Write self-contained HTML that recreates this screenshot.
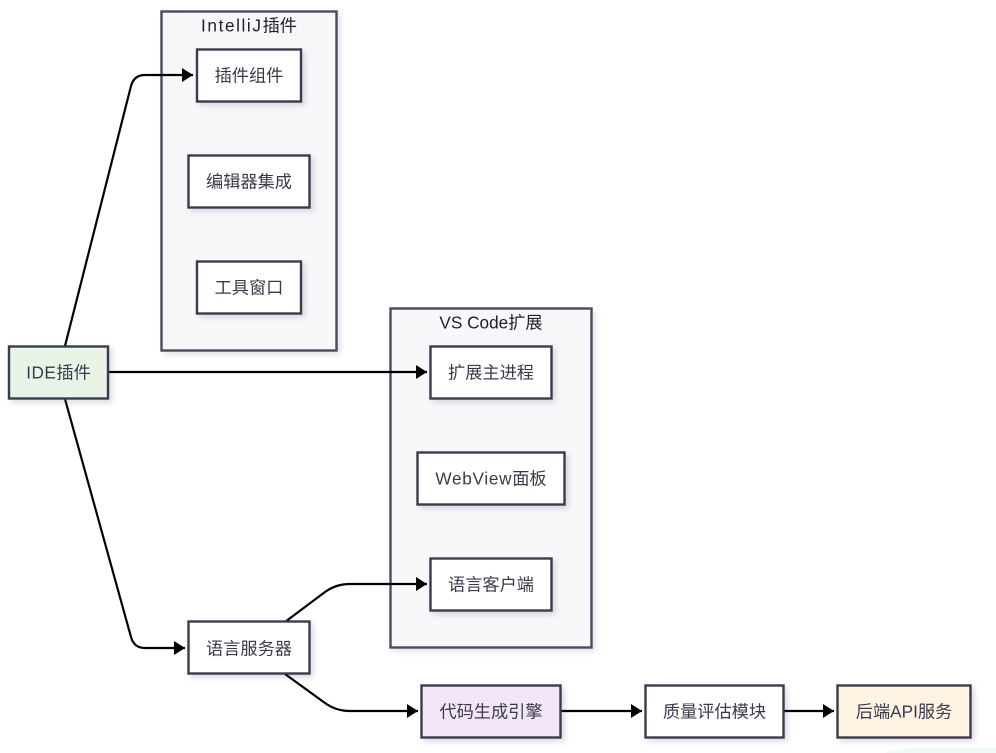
<!DOCTYPE html>
<html lang="zh">
<head>
<meta charset="utf-8">
<title>IDE插件架构图</title>
<style>
html,body{margin:0;padding:0;background:#fff;width:996px;height:753px;overflow:hidden}
svg{display:block}
text{font-family:"Liberation Sans","Noto Sans CJK SC",sans-serif;font-size:17.2px;fill:#3a3a4c;text-anchor:middle;dominant-baseline:central;transform:translateY(1.5px)}
.n{stroke:#3b3b4f;stroke-width:2.4;filter:drop-shadow(3px 3px 3px rgba(40,40,70,.16))}
.g{fill:#f8f8fb;stroke:#4a4a5e;stroke-width:2.4;filter:drop-shadow(3px 3px 3px rgba(40,40,70,.13))}
.e{fill:none;stroke:#000;stroke-width:2.2}
.t{fill:#20202c}
</style>
</head>
<body>
<svg width="996" height="753" viewBox="0 0 996 753" xmlns="http://www.w3.org/2000/svg">
<defs>
<marker id="a" markerUnits="userSpaceOnUse" markerWidth="12" markerHeight="14" refX="11" refY="7" orient="auto">
<path d="M0 0L11 7L0 14Z" fill="#000"/>
</marker>
</defs>
<path d="M885 753Q895 748 920 748H996V753Z" fill="#effaf7"/>

<rect class="g" x="161.500" y="11.500" width="175" height="339"/>
<rect class="g" x="390.500" y="308.500" width="201" height="339"/>
<text class="t" x="249" y="24"><tspan letter-spacing="1.6">IntelliJ</tspan>插件</text>
<text class="t" x="491" y="321">VS Code扩展</text>

<path class="e" d="M65 346L131 86Q134 75 145 75H193" marker-end="url(#a)"/>
<path class="e" d="M108 372H427" marker-end="url(#a)"/>
<path class="e" d="M65 399L131 637Q134 648 145 648H185" marker-end="url(#a)"/>
<path class="e" d="M285 622L325 592Q336 584 350 584H427" marker-end="url(#a)"/>
<path class="e" d="M285 674L325 703Q336 711 350 711H418" marker-end="url(#a)"/>
<path class="e" d="M561 711H642" marker-end="url(#a)"/>
<path class="e" d="M784 711H834" marker-end="url(#a)"/>

<rect class="n" x="197" y="49.500" width="104" height="52" fill="#fff"/>
<text x="249" y="74">插件组件</text>
<rect class="n" x="188.500" y="155.500" width="121" height="52" fill="#fff"/>
<text x="249" y="180">编辑器集成</text>
<rect class="n" x="197" y="261.500" width="104" height="52" fill="#fff"/>
<text x="249" y="286">工具窗口</text>
<rect class="n" x="9" y="346.500" width="99" height="52" fill="#e8f4e6"/>
<text x="58.500" y="371"><tspan letter-spacing=".5">IDE</tspan>插件</text>
<rect class="n" x="430.500" y="346.500" width="121" height="52" fill="#fff"/>
<text x="491" y="371">扩展主进程</text>
<rect class="n" x="417.500" y="452.500" width="147" height="52" fill="#fff"/>
<text x="491" y="477"><tspan letter-spacing=".7">WebView</tspan>面板</text>
<rect class="n" x="430.500" y="558.500" width="121" height="52" fill="#fff"/>
<text x="491" y="583">语言客户端</text>
<rect class="n" x="188.500" y="621.500" width="121" height="52" fill="#fff"/>
<text x="249" y="647">语言服务器</text>
<rect class="n" x="421.500" y="685.500" width="139" height="52" fill="#f3e6f6"/>
<text x="491" y="710">代码生成引擎</text>
<rect class="n" x="645.500" y="685.500" width="138" height="52" fill="#fff"/>
<text x="714.500" y="710">质量评估模块</text>
<rect class="n" x="837.500" y="685.500" width="133" height="52" fill="#fff3e2"/>
<text x="904" y="710">后端API服务</text>
</svg>
</body>
</html>
